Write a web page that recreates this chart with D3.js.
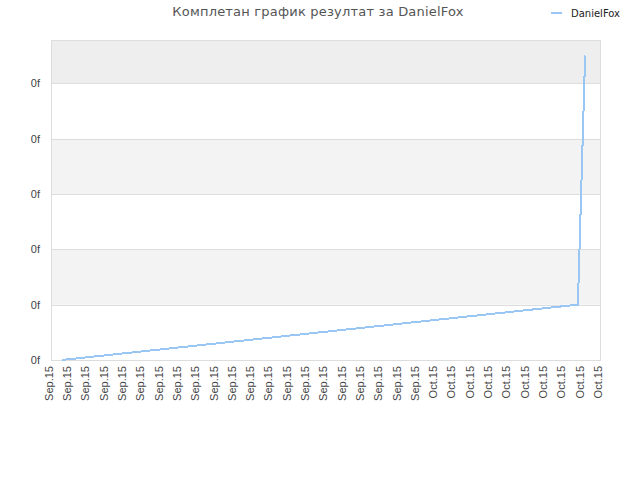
<!DOCTYPE html>
<html>
<head>
<meta charset="utf-8">
<title></title>
<script src="https://cdnjs.cloudflare.com/ajax/libs/d3/7.8.5/d3.min.js"></script>
<style type="text/css">
	body{
		margin: 0;
		padding: 0;
		background: #fff;
	}
	svg{
		display: block;
		font-family: "DejaVu Sans", sans-serif;
	}
</style>
</head>
<body>
<svg id="svg" width="640" height="480"></svg>
<script type="text/javascript">
	// series points
	let times = ['2015-09-10T14:00','2015-09-24T17:00','2015-10-08T19:00','2015-10-09T04:30'];
	let values = [0, 0.5, 1.0, 5.5];
	let yTicks = [0, 1, 2, 3, 4, 5];
	let yLabels = ['0f', '0f', '0f', '0f', '0f', '0f'];
	let xStart = '2015-09-10T00:00';
	let xEnd = '2015-10-10T00:00';
	let title = 'Комплетан график резултат за DanielFox';
	let seriesName = 'DanielFox';

	let parse = d3.isoParse;
	let svg = d3.select('#svg');
	let plotL = 51, plotR = 600, plotT = 40, plotB = 360;

	let x = d3.scaleTime()
		.domain([parse(xStart), parse(xEnd)])
		.range([plotL, plotR]);
	let y = d3.scaleLinear()
		.domain([0, 5.78])
		.range([plotB, plotT]);

	// bands between grid lines
	let bandEdges = yTicks.concat([y.domain()[1]]);
	let bandFill = ['#ffffff', '#f3f3f3', '#ffffff', '#f3f3f3', '#ffffff', '#eeeeee'];
	for(let i=0;i<bandEdges.length-1;i++){
		svg.append('rect')
			.attr('x', plotL)
			.attr('y', y(bandEdges[i+1]))
			.attr('width', plotR-plotL)
			.attr('height', y(bandEdges[i])-y(bandEdges[i+1]))
			.style('fill', bandFill[i]);
	}

	// y axis: grid + labels
	let yAxis = d3.axisLeft(y)
		.tickValues(yTicks)
		.tickSize(-(plotR-plotL))
		.tickPadding(11)
		.tickFormat((d,i)=>yLabels[i]);
	let gy = svg.append('g')
		.attr('transform','translate('+plotL+',0)')
		.call(yAxis);
	gy.select('.domain').remove();
	gy.selectAll('line').style('stroke','#dddddd').attr('shape-rendering','crispEdges');
	gy.selectAll('text').style('font-size','11px').style('fill','#444').style('font-family','"Liberation Sans", sans-serif');

	// plot frame
	svg.append('rect')
		.attr('x', plotL).attr('y', plotT)
		.attr('width', plotR-plotL).attr('height', plotB-plotT)
		.style('fill','none')
		.style('stroke','#dddddd')
		.attr('shape-rendering','crispEdges');

	// x axis
	let xAxis = d3.axisBottom(x)
		.ticks(d3.timeDay.every(1))
		.tickSize(0)
		.tickFormat(d3.timeFormat('%b.%y'));
	let gx = svg.append('g')
		.attr('transform','translate(0,'+plotB+')')
		.call(xAxis);
	gx.select('.domain').remove();
	gx.selectAll('text')
		.attr('transform','rotate(-90)')
		.attr('x', -6)
		.attr('y', -2)
		.attr('dy', '0.3em')
		.style('text-anchor','end')
		.style('font-size','11px')
		.style('fill','#444');

	// series line
	let data = times.map((t,i)=>({t:parse(t), v:values[i]}));
	let line = d3.line()
		.x(d=>x(d.t))
		.y(d=>y(d.v));
	svg.append('path')
		.datum(data)
		.attr('d', line)
		.attr('shape-rendering','crispEdges')
		.style('fill','none')
		.style('stroke','#99c6f2')
		.style('stroke-width', 2);

	// title
	svg.append('text')
		.attr('x', 318)
		.attr('y', 16)
		.style('text-anchor','middle')
		.style('font-size','13px')
		.style('letter-spacing','0.2px')
		.style('fill','#555')
		.text(title);

	// legend
	svg.append('line')
		.attr('x1', 551).attr('x2', 562)
		.attr('y1', 13).attr('y2', 13)
		.style('stroke','#99c6f2')
		.style('stroke-width', 2);
	svg.append('text')
		.attr('x', 571)
		.attr('y', 17)
		.style('font-size','10px')
		.style('fill','#222')
		.text(seriesName);
</script>
</body>
</html>
